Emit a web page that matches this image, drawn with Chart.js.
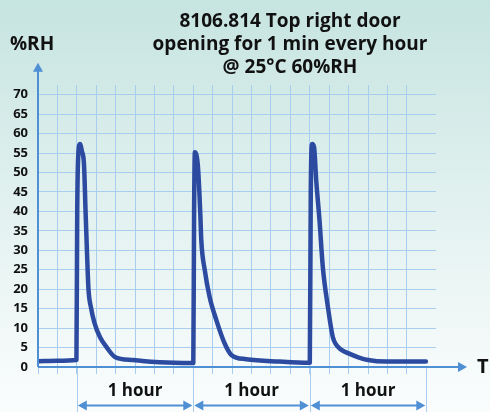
<!DOCTYPE html>
<html lang="en">
<head>
    <meta charset="UTF-8">
    <title>8106.814 Top right door</title>
    <script src="https://cdn.jsdelivr.net/npm/chart.js"></script>
    <style>
        html, body { margin: 0; padding: 0; }
        body { width: 490px; height: 412px; overflow: hidden; }
        #wrap { position: relative; width: 490px; height: 412px; }
    </style>
</head>
<body>
<div id="wrap">
    <canvas id="grafico" width="490" height="412"></canvas>
</div>

<script>
    // Data: time in grid units (6 units = 1 hour), %RH
    const timeUnits = [
        0, 1, 1.98, 2.02, 2.08, 2.16, 2.26, 2.37, 2.45, 2.52, 2.6, 2.72, 2.9, 3.19, 3.53, 3.96, 4.9, 6.27, 7.95,
        8.0, 8.04, 8.08, 8.24, 8.36, 8.41, 8.59, 8.84, 9.19, 9.61, 9.96, 10.73, 12.44, 13.95,
        14.0, 14.05, 14.12, 14.22, 14.33, 14.5, 14.67, 14.93, 15.18, 15.35, 15.6, 16.0, 16.5, 17.0, 17.93, 19.98
    ];
    const rhValues = [
        1.5, 1.6, 1.8, 40, 55, 57.3, 55.5, 52, 40, 30, 20, 15.5, 11.5, 7.7, 5.1, 2.6, 1.8, 1.2, 1.0,
        1.0, 40, 55.2, 51.4, 39.4, 32.6, 24.9, 18, 12, 6.1, 3.1, 2.0, 1.4, 1.1,
        1.1, 45, 57.3, 56.5, 48, 37.7, 25.7, 15.5, 7.8, 5.8, 4.5, 3.5, 2.5, 1.8, 1.4, 1.4
    ];
    const yTicks = [0, 5, 10, 15, 20, 25, 30, 35, 40, 45, 50, 55, 60, 65, 70];
    const hourMarks = [2, 8, 14, 20];
    const hourLabels = ['1 hour', '1 hour', '1 hour'];
    const titleLines = ['8106.814 Top right door', 'opening for 1 min every hour', '@ 25°C 60%RH'];
    const yAxisLabel = '%RH';
    const xAxisLabel = 'T';

    const AXIS = '#4f8fd4';
    const GRID = '#a9cdee';
    const LINE = '#2c4ba0';
    const FONT = '"Open Sans", "Noto Sans", sans-serif';

    function arrowHead(ctx, x, y, dir) {
        // dir: 'up', 'right', 'left'
        ctx.beginPath();
        if (dir === 'up') {
            ctx.moveTo(x, y); ctx.lineTo(x - 5, y + 9); ctx.lineTo(x + 5, y + 9);
        } else if (dir === 'right') {
            ctx.moveTo(x, y); ctx.lineTo(x - 9, y - 5); ctx.lineTo(x - 9, y + 5);
        } else {
            ctx.moveTo(x, y); ctx.lineTo(x + 9, y - 5); ctx.lineTo(x + 9, y + 5);
        }
        ctx.closePath();
        ctx.fill();
    }

    const fondo = {
        id: 'fondo',
        beforeDraw(chart) {
            const { ctx, width, height } = chart;
            const g = ctx.createLinearGradient(0, 0, 0, height);
            g.addColorStop(0, '#c6e4e0');
            g.addColorStop(0.45, '#dff0ee');
            g.addColorStop(1, '#fbfdfd');
            ctx.save();
            ctx.fillStyle = g;
            ctx.fillRect(0, 0, width, height);
            ctx.restore();
        }
    };

    const extras = {
        id: 'extras',
        beforeDatasetsDraw(chart) {
            const { ctx, scales: { x, y } } = chart;
            const y0 = y.getPixelForValue(0);
            ctx.save();
            // long hour lines below the axis
            ctx.strokeStyle = GRID;
            ctx.lineWidth = 1;
            hourMarks.forEach(h => {
                const px = Math.round(x.getPixelForValue(h)) + 0.5;
                ctx.beginPath();
                ctx.moveTo(px, y0);
                ctx.lineTo(px, 412);
                ctx.stroke();
            });
            ctx.restore();
        },
        afterDraw(chart) {
            const { ctx, scales: { x, y } } = chart;
            const x0 = x.getPixelForValue(0);
            const y0 = y.getPixelForValue(0);
            const yTop = y.getPixelForValue(70);
            ctx.save();
            ctx.strokeStyle = AXIS;
            ctx.fillStyle = AXIS;
            ctx.lineWidth = 2;
            // y axis arrow
            ctx.beginPath();
            ctx.moveTo(x0, y0);
            ctx.lineTo(x0, yTop - 26);
            ctx.stroke();
            arrowHead(ctx, x0, yTop - 32, 'up');
            // x axis arrow
            ctx.beginPath();
            ctx.moveTo(x0, y0);
            ctx.lineTo(460, y0);
            ctx.stroke();
            arrowHead(ctx, 467, y0, 'right');

            // hour arrows
            const ya = 405.5;
            for (let i = 0; i < hourLabels.length; i++) {
                const a = x.getPixelForValue(hourMarks[i]);
                const b = x.getPixelForValue(hourMarks[i + 1]);
                ctx.strokeStyle = AXIS;
                ctx.fillStyle = AXIS;
                ctx.beginPath();
                ctx.moveTo(a + 6, ya);
                ctx.lineTo(b - 6, ya);
                ctx.stroke();
                arrowHead(ctx, a + 1, ya, 'left');
                arrowHead(ctx, b - 1, ya, 'right');
                ctx.fillStyle = '#111';
                ctx.font = 'bold 17px ' + FONT;
                ctx.textAlign = 'center';
                ctx.textBaseline = 'middle';
                ctx.fillText(hourLabels[i], (a + b) / 2, 391);
            }

            // axis labels
            ctx.fillStyle = '#111';
            ctx.font = 'bold 19px ' + FONT;
            ctx.textBaseline = 'middle';
            ctx.textAlign = 'left';
            ctx.fillText(yAxisLabel, 10, 45);
            ctx.font = 'bold 20px ' + FONT;
            ctx.fillText(xAxisLabel, 477, 367);

            // title
            ctx.font = 'bold 19px ' + FONT;
            ctx.textAlign = 'center';
            titleLines.forEach((t, i) => ctx.fillText(t, 290, 22 + i * 23));
            ctx.restore();
        }
    };

    const ctx = document.getElementById('grafico').getContext('2d');
    const chart = new Chart(ctx, {
        type: 'line',
        data: {
            datasets: [{
                label: '%RH',
                data: timeUnits.map((t, i) => ({ x: t, y: rhValues[i] })),
                borderColor: LINE,
                borderWidth: 4.5,
                borderCapStyle: 'round',
                borderJoinStyle: 'round',
                pointRadius: 0,
                cubicInterpolationMode: 'monotone',
                fill: false
            }]
        },
        options: {
            responsive: false,
            animation: false,
            layout: { padding: { top: 85, right: 54, bottom: 38, left: 0 } },
            plugins: { legend: { display: false }, tooltip: { enabled: false } },
            scales: {
                x: {
                    type: 'linear',
                    min: 0,
                    max: 20.5,
                    afterBuildTicks: s => { s.ticks = s.ticks.filter(t => Number.isInteger(t.value)); },
                    afterFit: s => { s.height = 7; },
                    ticks: { display: false, stepSize: 1 },
                    grid: { color: GRID, lineWidth: 1, drawTicks: true, tickLength: 7 },
                    border: { display: false }
                },
                y: {
                    min: 0,
                    max: 72.5,
                    afterBuildTicks: s => { s.ticks = yTicks.map(v => ({ value: v })); },
                    afterFit: s => { s.width = 38; },
                    ticks: {
                        color: '#111',
                        font: { family: FONT, size: 13, weight: 'bold' },
                        padding: 10
                    },
                    grid: { color: GRID, lineWidth: 1, drawTicks: false },
                    border: { display: false }
                }
            }
        },
        plugins: [fondo, extras]
    });
</script>
</body>
</html>
